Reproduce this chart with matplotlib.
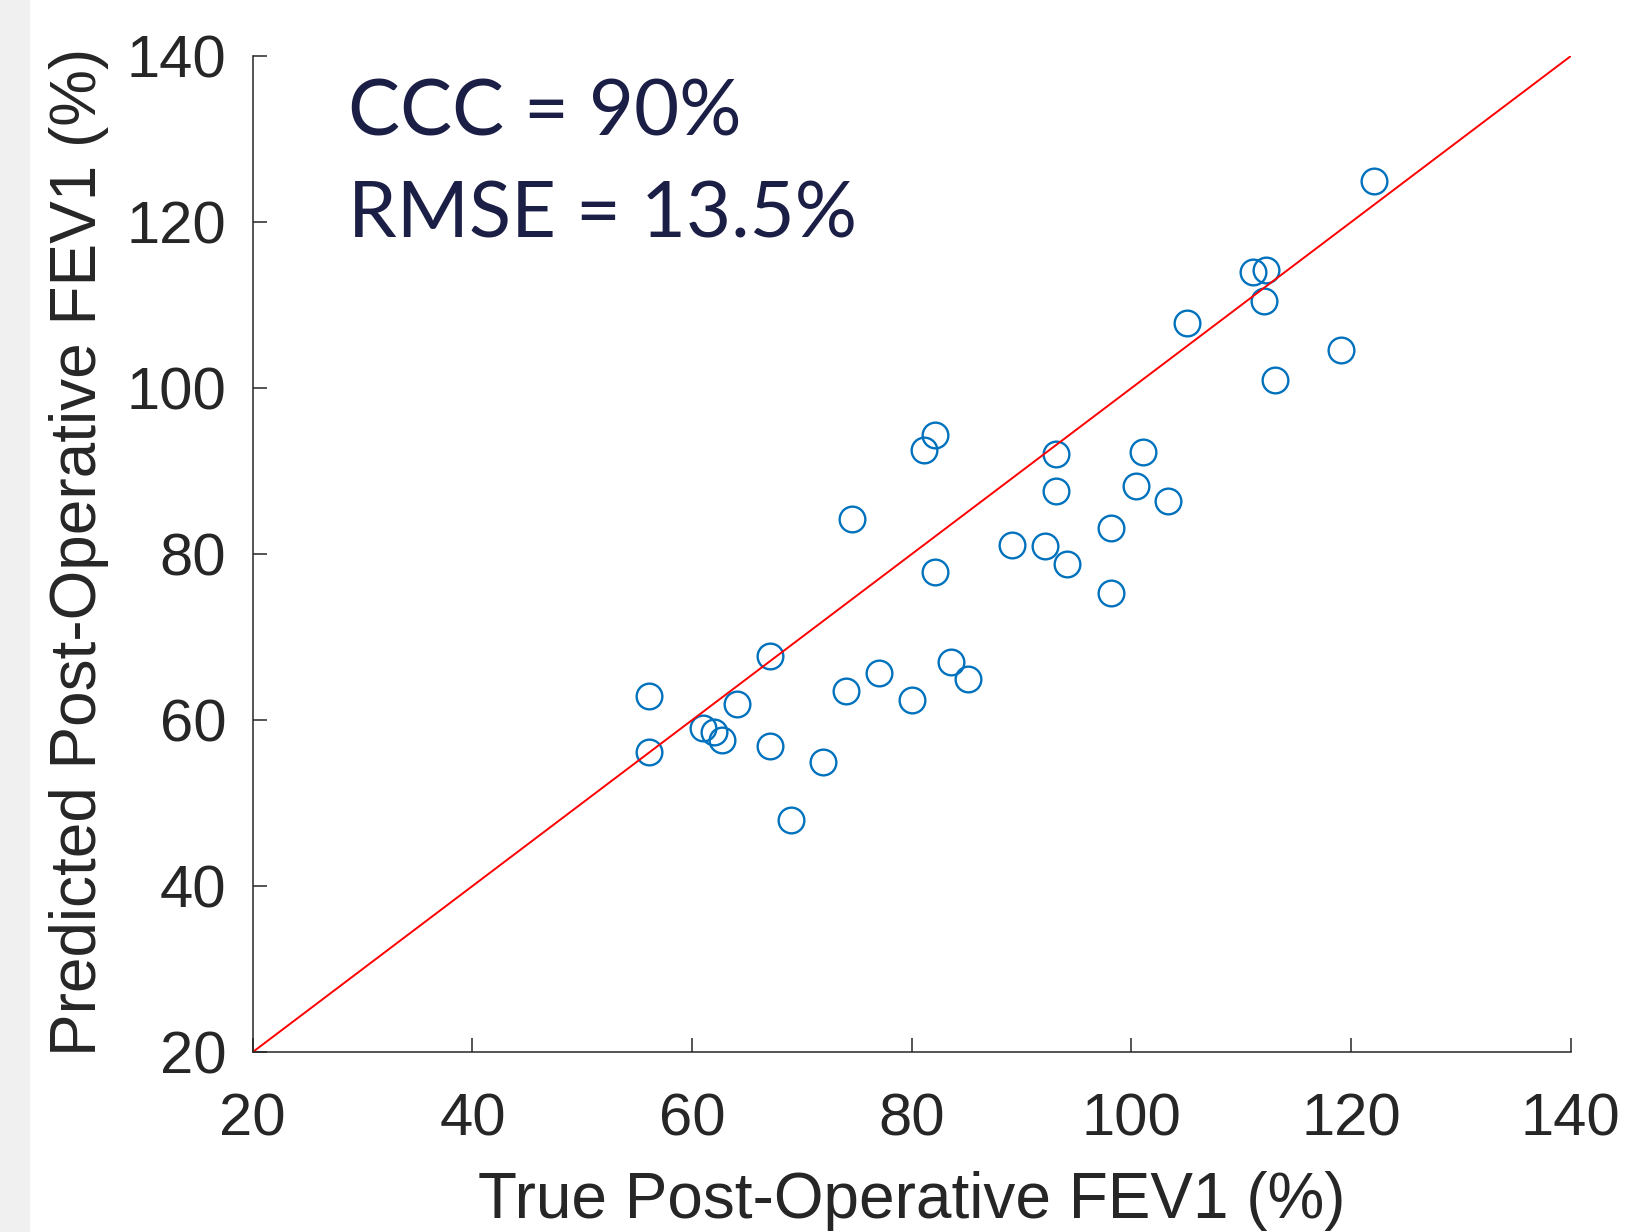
import numpy as np
import matplotlib.pyplot as plt
from matplotlib.patches import Rectangle

# true vs predicted post-operative FEV1 (%)
true_fev1 = [56.1, 56.1, 61.0, 62.0, 62.7, 64.1, 67.1, 67.1, 69.0, 71.9,
             74.0, 77.0, 80.0, 83.6, 85.1, 82.1, 81.1, 74.6, 82.1, 93.1,
             93.1, 101.1, 100.4, 103.3, 98.1, 89.1, 92.1, 94.1, 98.1, 122.1,
             111.1, 112.3, 112.1, 105.1, 119.1, 113.1]
pred_fev1 = [62.9, 56.2, 59.1, 58.6, 57.6, 61.9, 67.7, 56.9, 48.0, 55.0,
             63.5, 65.7, 62.4, 67.0, 65.0, 94.4, 92.6, 84.2, 77.9, 92.1,
             87.6, 92.3, 88.2, 86.4, 83.1, 81.1, 81.0, 78.8, 75.3, 125.0,
             114.0, 114.2, 110.5, 107.9, 104.6, 101.0]
identity = [20, 140]
ticks = [20, 40, 60, 80, 100, 120, 140]

ink = '#262626'
navy = '#1b1e45'

fig = plt.figure(figsize=(16.31, 12.32), dpi=100)
fig.patches.append(Rectangle((0, 0), 29/1631, 1, transform=fig.transFigure,
                             color='#f0f0f0', zorder=-1))

ax = fig.add_axes([0.155, 0.1461, 0.808, 0.8083])
ax.plot(true_fev1, pred_fev1, 'o', mfc='none', mec='#0072BD', ms=18.5, mew=1.7)
ax.plot(identity, identity, color='red', lw=1.4)

ax.set_xlim(20, 140)
ax.set_ylim(20, 140)
ax.set_xticks(ticks)
ax.set_yticks(ticks)
for s in ['top', 'right']:
    ax.spines[s].set_visible(False)
for s in ['left', 'bottom']:
    ax.spines[s].set_color(ink)
    ax.spines[s].set_linewidth(1.1)
ax.tick_params(direction='in', length=10, width=1.1, color=ink,
               labelcolor=ink, labelsize=43)
ax.tick_params(axis='x', pad=29)
ax.tick_params(axis='y', pad=19)
for lab in ax.get_xticklabels() + ax.get_yticklabels():
    lab.set_family('Liberation Sans')

fig.text(0.559, 0.0115, 'True Post-Operative FEV1 (%)', ha='center',
         va='baseline', fontsize=46, color=ink, family='Liberation Sans')
fig.text(0.0486, 0.552, 'Predicted Post-Operative FEV1 (%)', ha='center',
         va='center', rotation=90, fontsize=46, color=ink,
         family='Liberation Sans')

fig.text(0.2135, 0.8904, 'CCC = 90%', ha='left', va='baseline',
         fontsize=56, color=navy, family='Lato')
fig.text(0.2135, 0.8076, 'RMSE = 13.5%', ha='left', va='baseline',
         fontsize=56, color=navy, family='Lato')

fig.savefig('out.png', dpi=100)
